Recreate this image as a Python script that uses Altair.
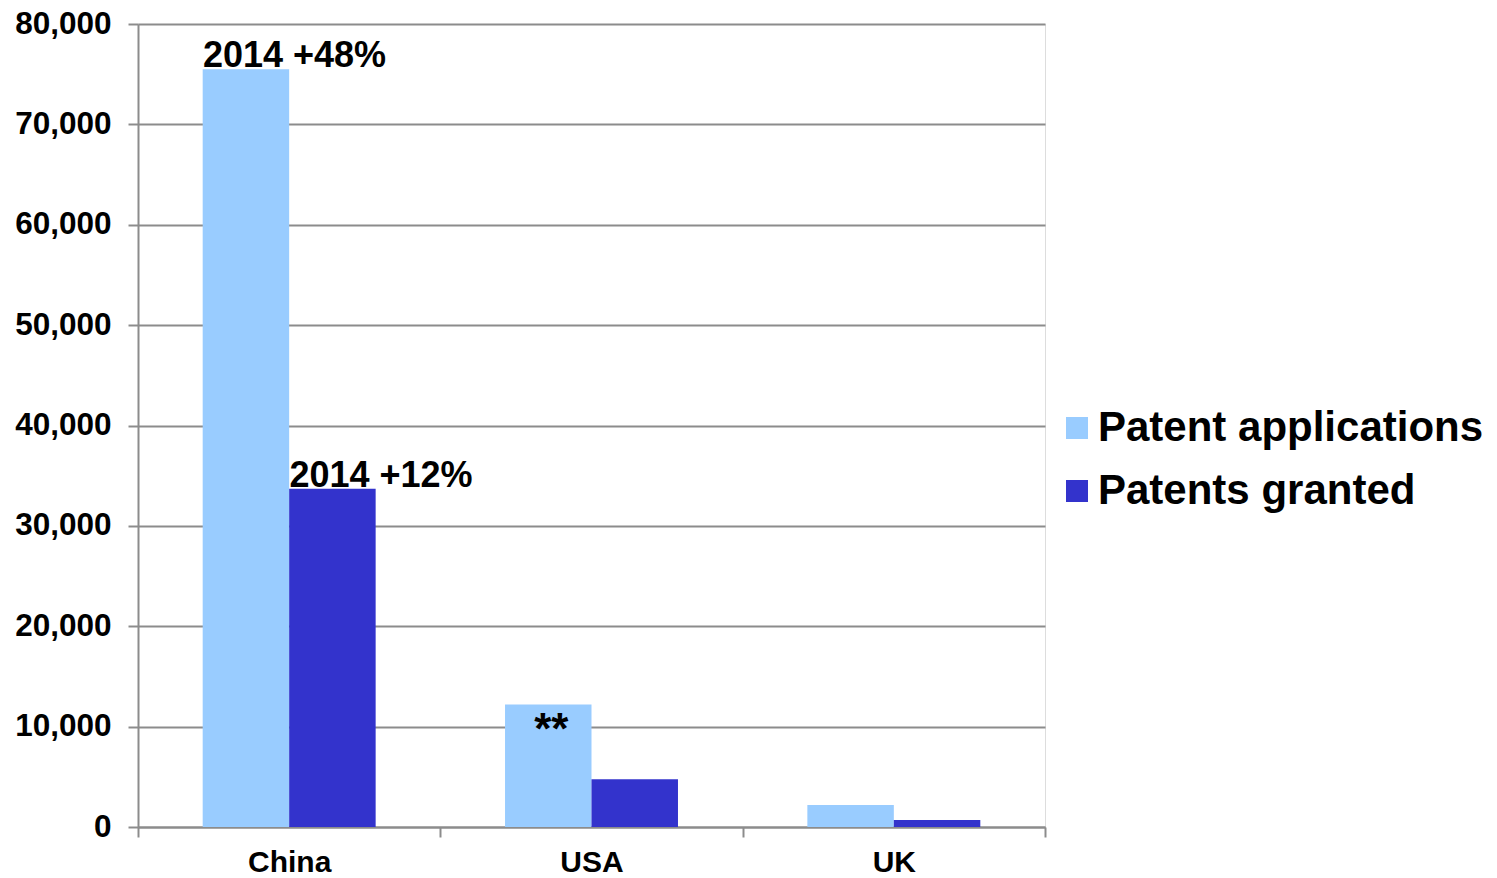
import altair as alt
import pandas as pd

countries = ["China", "USA", "UK"]
series = ["Patent applications", "Patents granted"]
applications = [75500, 12200, 2200]
granted = [33700, 4750, 700]

pct_country = ["China", "China"]
pct_series = ["Patent applications", "Patents granted"]
pct_value = [75500, 33700]
pct_text = ["2014 +48%", "2014 +12%"]

star_country = ["USA"]
star_series = ["Patent applications"]
star_value = [12200]
star_text = ["**"]

y_ticks = [0, 10000, 20000, 30000, 40000, 50000, 60000, 70000, 80000]

rows = []
for c, a, g in zip(countries, applications, granted):
    rows.append({"country": c, "series": series[0], "value": a})
    rows.append({"country": c, "series": series[1], "value": g})
df = pd.DataFrame(rows)
pct_df = pd.DataFrame({"country": pct_country, "series": pct_series,
                       "value": pct_value, "text": pct_text})
star_df = pd.DataFrame({"country": star_country, "series": star_series,
                        "value": star_value, "text": star_text})

FONT = "Liberation Sans"
GRID = "#8c8c8c"

x_scale = alt.Scale(paddingInner=0, paddingOuter=0)
xo_scale = alt.Scale(paddingInner=0, paddingOuter=0.748)

x_enc = alt.X(
    "country:N", sort=countries, scale=x_scale,
    axis=alt.Axis(title=None, labelAngle=0, tickBand="extent", tickSize=10,
                  tickColor=GRID, tickWidth=2, domainColor=GRID, domainWidth=2,
                  labelFont=FONT, labelFontSize=30, labelFontWeight="bold",
                  labelColor="black", labelPadding=10, grid=False),
)
xo_enc = alt.XOffset("series:N", sort=series, scale=xo_scale)
y_enc = alt.Y(
    "value:Q",
    scale=alt.Scale(domain=[0, 80000], nice=False),
    axis=alt.Axis(title=None, values=y_ticks, format=",.0f", tickSize=10,
                  tickColor=GRID, tickWidth=2, domainColor=GRID, domainWidth=2,
                  gridColor=GRID, gridWidth=2, grid=True,
                  labelFont=FONT, labelFontSize=31.5, labelFontWeight="bold",
                  labelColor="black", labelPadding=17),
)

bars = alt.Chart(df).mark_bar().encode(
    x=x_enc,
    xOffset=xo_enc,
    y=y_enc,
    color=alt.Color(
        "series:N", sort=series,
        scale=alt.Scale(domain=series, range=["#99CCFF", "#3333CC"]),
        legend=alt.Legend(title=None, orient="none", legendX=918, legendY=383,
                          symbolType="square", symbolSize=484,
                          symbolStrokeWidth=0, labelFont=FONT,
                          labelFontSize=42, labelFontWeight="bold",
                          labelColor="black", labelOffset=0, rowPadding=21,
                          labelLimit=600),
    ),
)

pct = alt.Chart(pct_df).mark_text(
    align="left", baseline="alphabetic", dx=-43, dy=-2,
    font=FONT, fontSize=36, fontWeight="bold", color="black",
).encode(
    x=alt.X("country:N", sort=countries, scale=x_scale),
    xOffset=alt.XOffset("series:N", sort=series, scale=xo_scale),
    y="value:Q",
    text="text:N",
)

star = alt.Chart(star_df).mark_text(
    align="center", baseline="top", dx=3, dy=4,
    font=FONT, fontSize=44, fontWeight="bold", color="black",
).encode(
    x=alt.X("country:N", sort=countries, scale=x_scale),
    xOffset=alt.XOffset("series:N", sort=series, scale=xo_scale),
    y="value:Q",
    text="text:N",
)

chart = alt.layer(bars, pct, star).properties(
    width=907, height=803,
    padding={"left": 6, "top": 0, "right": 0, "bottom": 0},
).configure_view(stroke=None).configure(background="white")

chart.save("out.html", embed_options={"renderer": "svg", "actions": False})
